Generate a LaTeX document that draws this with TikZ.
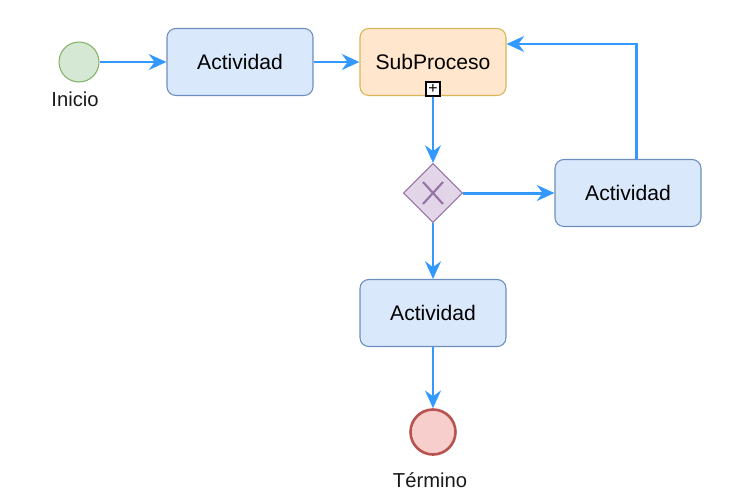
\documentclass[tikz,border=0pt]{standalone}
\usepackage{fontspec}
\setmainfont{Liberation Sans}
\usetikzlibrary{shapes.geometric, arrows.meta, positioning}
\definecolor{actfill}{HTML}{DAE8FC}
\definecolor{actline}{HTML}{6C8EBF}
\definecolor{subfill}{HTML}{FFE6CC}
\definecolor{subline}{HTML}{D6B656}
\definecolor{gwfill}{HTML}{E1D5E7}
\definecolor{gwline}{HTML}{9673A6}
\definecolor{startfill}{HTML}{D5E8D4}
\definecolor{startline}{HTML}{82B366}
\definecolor{endfill}{HTML}{F8CECC}
\definecolor{endline}{HTML}{B85450}
\definecolor{flow}{HTML}{3399FF}
\tikzset{
  actbox/.style={draw=actline, fill=actfill, rounded corners=5pt, line width=0.6pt,
    minimum width=2.92cm, minimum height=1.34cm, font=\fontsize{12}{14}\selectfont},
  subbox/.style={actbox, draw=subline, fill=subfill},
  gateway/.style={diamond, draw=gwline, fill=gwfill, line width=0.6pt,
    minimum width=1.18cm, minimum height=1.18cm, inner sep=0pt},
  startev/.style={circle, draw=startline, fill=startfill, line width=0.6pt,
    minimum size=0.8cm, inner sep=0pt},
  endev/.style={circle, draw=endline, fill=endfill, line width=1.5pt,
    minimum size=0.9cm, inner sep=0pt},
  evlabel/.style={font=\fontsize{11.5}{13}\selectfont, text=black!90},
  flowline/.style={draw=flow, line width=1.7pt, -{Stealth[length=10pt, width=9pt]}}
}

\begin{document}
\begin{tikzpicture}[x=0.02cm, y=-0.02cm]
\useasboundingbox (0,0) rectangle (744,491);

% eventos
\node[startev] (inicio) at (79, 62) {};
\node[evlabel] (inicioLbl) at (75, 99) {Inicio};
\node[endev] (fin) at (433, 432) {};
\node[evlabel] (finLbl) at (430, 480) {Término};

% actividades
\node[actbox] (act1) at (240, 62) {Actividad};
\node[subbox] (sub) at (433, 62) {SubProceso};
\node[draw, fill=white, line width=0.6pt, minimum size=0.28cm, inner sep=0pt,
  font=\fontsize{9}{9}\selectfont] (plus) at (433, 89) {+};
\node[actbox] (act2) at (628, 193) {Actividad};
\node[actbox] (act3) at (433, 313) {Actividad};

% compuerta
\node[gateway] (gw) at (433, 193) {};
\draw[gwline, line width=1.2pt] (423, 182) -- (443, 204) (443, 182) -- (423, 204);

% flujos
\coordinate (loop) at (636, 44);
\draw[flowline] (inicio) -- (act1);
\draw[flowline] (act1) -- (sub);
\draw[flowline] (plus.south) -- (gw.north);
\draw[flowline] (gw.east) -- (act2);
\draw[flowline] (gw.south) -- (act3);
\draw[flowline] (act3) -- (fin);
\draw[flowline] (act2.north -| loop) -- (loop) -- (loop -| sub.east);
\end{tikzpicture}
\end{document}
